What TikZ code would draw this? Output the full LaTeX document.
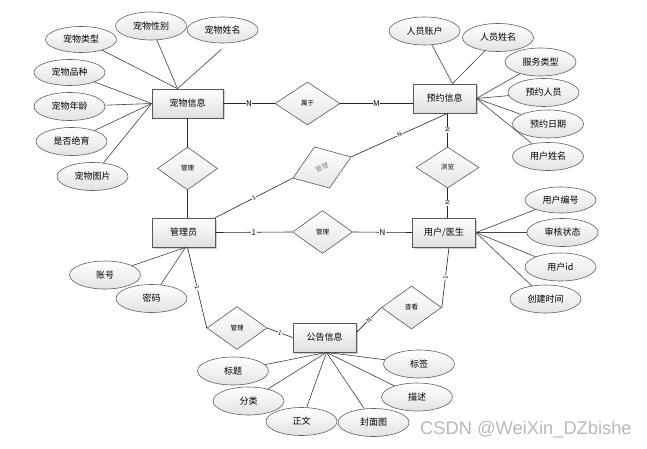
\documentclass[tikz,border=0pt]{standalone}
\usepackage{fontspec}
\setmainfont{Liberation Sans}
\newfontfamily\cjk{Noto Sans CJK SC}
\usetikzlibrary{shapes.geometric,shadows}
\begin{document}
\begin{tikzpicture}[x=1pt,y=-1pt,
 attr/.style={ellipse,draw=gray!75!black,line width=0.6pt,top color=white,bottom color=gray!22,minimum width=71pt,minimum height=28pt,inner sep=0pt,font=\cjk\fontsize{9}{10}\selectfont},
 ent/.style={rectangle,draw=gray!70!black,line width=0.8pt,top color=white,bottom color=gray!25,minimum width=63pt,minimum height=29pt,inner sep=0pt,font=\cjk\fontsize{9}{10}\selectfont,drop shadow={shadow xshift=1.5pt,shadow yshift=-1.5pt,fill=gray!60,opacity=0.6}},
 rel/.style={diamond,draw=gray!70!black,line width=0.6pt,top color=white,bottom color=gray!20,minimum width=60pt,minimum height=43pt,inner sep=0pt,font=\cjk\fontsize{6.5}{7}\selectfont},
 link/.style={draw=black!85,line width=0.6pt},
 alink/.style={draw=black!75,line width=0.6pt},
 card/.style={font=\cjk\fontsize{8}{8}\selectfont,fill=white,inner sep=0.5pt},
 scard/.style={card,sloped,font=\cjk\fontsize{6}{6}\selectfont},
]
\fill[white] (0,0) rectangle (647,449);
\useasboundingbox (0,0) rectangle (647,449);

% entities
\node[ent,minimum width=71pt] (pet) at (187.5,103.5) {宠物信息};
\node[ent] (res) at (444.5,98.5) {预约信息};
\node[ent] (admin) at (183.5,232.5) {管理员};
\node[ent] (user) at (444,232.5) {用户/医生};
\node[ent] (notice) at (324.5,337.5) {公告信息};

% relations
\node[rel,minimum width=65pt] (r1) at (307.5,103.5) {属于};
\node[rel] (r2) at (187.5,168.5) {管理};
\node[rel,rotate=20,text=gray,minimum width=62pt,minimum height=44pt] (r3) at (322,167.5) {管理};
\node[rel,minimum width=63pt,minimum height=41pt] (r4) at (447.5,167.5) {浏览};
\node[rel] (r5) at (322.5,232) {管理};
\node[rel] (r6) at (237,328) {管理};
\node[rel] (r7) at (411.5,307.5) {查看};

% pet attributes
\node[attr,minimum height=26pt] (a1) at (81,39.5) {宠物类型};
\node[attr] (a2) at (151,26) {宠物性别};
\node[attr,minimum height=26pt] (a3) at (222.5,30) {宠物姓名};
\node[attr,minimum height=26pt] (a4) at (69.5,72.5) {宠物品种};
\node[attr] (a5) at (69.5,106.5) {宠物年龄};
\node[attr] (a6) at (71.5,141.5) {是否绝育};
\node[attr] (a7) at (92.5,176.5) {宠物图片};

% reservation attributes
\node[attr] (b1) at (424.5,31) {人员账户};
\node[attr] (b2) at (498,37.5) {人员姓名};
\node[attr] (b3) at (540.5,62) {服务类型};
\node[attr] (b4) at (543.5,92.5) {预约人员};
\node[attr] (b5) at (548,124) {预约日期};
\node[attr] (b6) at (548,156.5) {用户姓名};

% user attributes
\node[attr,minimum height=26pt] (c1) at (560.5,200) {用户编号};
\node[attr] (c2) at (562.5,232.5) {审核状态};
\node[attr] (c3) at (560.5,267) {用户id};
\node[attr] (c4) at (545.5,299) {创建时间};

% admin attributes
\node[attr] (d1) at (105,275) {账号};
\node[attr] (d2) at (151.5,298.5) {密码};

% notice attributes
\node[attr] (e1) at (233,371) {标题};
\node[attr] (e2) at (248.5,401) {分类};
\node[attr] (e3) at (301.5,421.5) {正文};
\node[attr] (e4) at (373.5,422.5) {封面图};
\node[attr] (e5) at (417,397) {描述};
\node[attr] (e6) at (419,364) {标签};

% anchor points
\coordinate (petT) at ([xshift=-10pt]pet.north);
\coordinate (resT) at ([xshift=8pt]res.north);
\coordinate (admB) at ([xshift=2pt]admin.south);
\coordinate (notB) at ([xshift=2pt]notice.south);

% attribute links
\draw[alink] (a1) -- (petT);
\draw[alink] (a2) -- (petT);
\draw[alink] ([shift={(-1pt,-6pt)}]a3.south) -- (petT);
\draw[alink] (a4) -- (pet.west);
\draw[alink] (a5) -- (pet.west);
\draw[alink] (a6) -- (pet.west);
\draw[alink] (a7) -- (pet.west);
\draw[alink] (b1) -- (resT);
\draw[alink] (b2) -- (resT);
\draw[alink] (b3) -- (res.east);
\draw[alink] (b4) -- (res.east);
\draw[alink] (b5) -- (res.east);
\draw[alink] (b6) -- (res.east);
\draw[alink] (c1) -- (user.east);
\draw[alink] (c2) -- (user.east);
\draw[alink] (c3) -- (user.east);
\draw[alink] (c4) -- (user.east);
\draw[alink] (d1) -- (admB);
\draw[alink] (d2) -- (admB);
\foreach \e in {e1,e2,e3,e4,e5,e6} \draw[alink] (\e) -- (notB);

% relationship links
\draw[link] (pet.east) -- node[card]{N} (r1.west);
\draw[link] (r1.east) -- node[card]{M} (r1.east -| res.west);
\draw[link] (pet.south) -- (r2.north);
\draw[link] (r2.south) -- (r2.south |- admin.north);
\draw[link] (admin.north east) -- node[scard]{1} (r3.west);
\draw[link] (r3.east) -- node[scard]{N} ([xshift=3pt]res.south);
\draw[link] ([xshift=3pt]res.south) -- node[scard]{N} (r4.north);
\draw[link] (r4.south) -- node[scard]{N} (r4.south |- user.north);
\draw[link] (admin.east) -- node[card]{1} (r5.west);
\draw[link] (r5.east) -- node[card]{N} (user.west);
\draw[link] ([xshift=4pt]admin.south) -- node[scard]{1} (r6.west);
\draw[link] (r6.east) -- node[scard]{1} (notice.west);
\draw[link] (r7.west) -- node[scard]{N} ([yshift=5pt]notice.east);
\draw[link] (r7.east) -- node[scard]{1} ([xshift=5pt]user.south);

% watermark
\node[font=\fontsize{18.3}{20}\selectfont,text=gray!55,anchor=west,inner sep=0pt] (wm) at (420,430) {CSDN @WeiXin\_DZbishe};
\end{tikzpicture}
\end{document}
